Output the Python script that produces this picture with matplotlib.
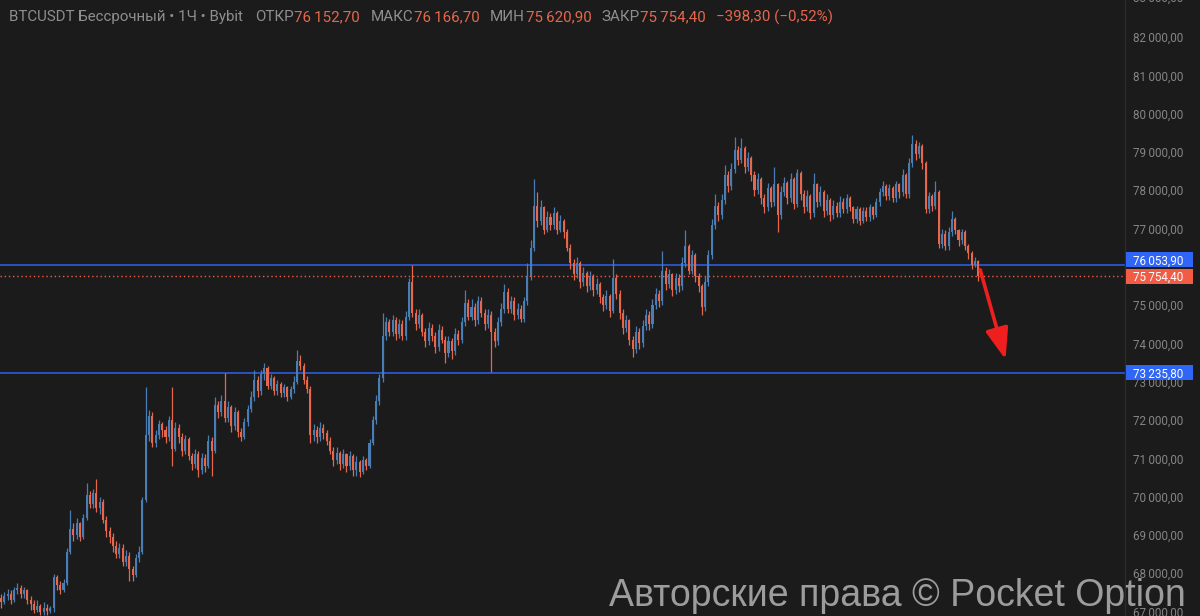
import numpy as np
import matplotlib
matplotlib.use("Agg")
import matplotlib.pyplot as plt
from matplotlib.patches import Rectangle
from matplotlib.ticker import FuncFormatter, MultipleLocator

# ─────────────────────────────────────────────
# Data (BTCUSDT 1H, prices in thousands USDT)
# ─────────────────────────────────────────────
first_open = 67.35

closes = [
    67.25, 67.40, 67.45, 67.30, 67.55, 67.62, 67.45, 67.55, 67.30, 67.20,
    67.05, 67.15, 66.98, 67.10, 67.02, 67.08, 67.90, 67.70, 67.55, 67.75,
    68.55, 69.15, 69.00, 69.30, 68.95, 69.45, 70.05, 69.80, 70.10, 69.70,
    69.85, 69.40, 69.10, 68.95, 68.70, 68.50, 68.65, 68.30, 68.45, 68.10,
    67.95, 68.40, 68.55, 69.90, 71.60, 72.10, 71.40, 71.60, 71.90, 71.75,
    71.55, 72.00, 71.25, 71.80, 71.55, 71.20, 71.50, 71.05, 70.85, 71.10,
    70.70, 71.00, 70.80, 71.45, 71.20, 72.40, 72.20, 72.50, 72.05, 72.35,
    71.85, 72.20, 71.70, 71.55, 71.95, 72.30, 72.60, 73.05, 72.75, 73.20,
    73.35, 72.90, 73.10, 72.75, 72.95, 72.70, 72.85, 72.60, 72.80, 73.00,
    73.55, 73.40, 73.05, 72.80, 71.60, 71.75, 71.55, 71.80, 71.65, 71.45,
    71.20, 70.95, 71.15, 70.85, 71.10, 70.80, 71.05, 70.70, 70.90, 70.65,
    70.95, 70.80, 71.40, 72.00, 72.50, 73.10, 74.20, 74.55, 74.30, 74.60,
    74.25, 74.50, 74.20, 74.70, 75.60, 74.80, 74.50, 74.75, 74.30, 74.05,
    74.40, 74.20, 73.90, 74.35, 74.10, 73.75, 74.05, 73.80, 74.25, 74.10,
    74.55, 75.05, 74.70, 74.95, 74.60, 75.10, 74.80, 74.50, 74.75, 74.30,
    74.05, 74.55, 74.90, 75.35, 74.90, 75.10, 74.75, 74.90, 74.65, 75.10,
    75.75, 76.50, 77.60, 77.20, 77.55, 76.95, 77.30, 77.10, 77.40, 76.95,
    77.20, 76.90, 76.50, 76.10, 75.80, 76.10, 75.60, 75.85, 75.50, 75.75,
    75.40, 75.55, 75.20, 75.00, 75.25, 74.85, 75.70, 75.30, 74.80, 74.40,
    74.60, 74.10, 73.85, 74.30, 74.00, 74.45, 74.75, 74.50, 75.00, 75.30,
    75.10, 75.90, 75.55, 75.80, 75.40, 75.70, 75.50, 76.10, 76.55, 75.90,
    76.30, 75.75, 75.50, 74.95, 75.60, 76.30, 77.10, 77.60, 77.35, 77.75,
    78.40, 78.10, 78.55, 79.05, 78.80, 79.10, 78.60, 78.85, 78.40, 78.00,
    78.30, 77.80, 77.55, 78.05, 77.70, 78.15, 77.35, 77.95, 78.20, 77.80,
    78.30, 77.65, 78.45, 77.90, 77.55, 77.85, 77.40, 78.15, 77.70, 77.95,
    77.45, 77.75, 77.35, 77.60, 77.40, 77.70, 77.50, 77.80, 77.55, 77.25,
    77.50, 77.20, 77.45, 77.30, 77.55, 77.35, 77.70, 77.95, 78.10, 77.85,
    78.05, 77.80, 78.15, 77.95, 78.40, 77.90, 78.70, 79.20, 78.95, 79.15,
    78.70, 77.50, 77.85, 77.60, 77.95, 76.60, 76.85, 76.55, 76.90, 77.25,
    76.95, 76.70, 76.90, 76.55, 76.35, 76.05, 76.1527, 75.7544,
]

highs = [
    67.45, 67.50, 67.60, 67.55, 67.65, 67.75, 67.70, 67.65, 67.60, 67.40,
    67.30, 67.30, 67.20, 67.25, 67.20, 67.15, 67.98, 67.95, 67.80, 67.85,
    68.65, 69.65, 69.30, 69.45, 69.35, 69.55, 70.35, 70.15, 70.20, 70.45,
    70.00, 69.95, 69.50, 69.20, 69.05, 68.85, 68.80, 68.75, 68.60, 68.55,
    68.20, 68.50, 68.70, 70.00, 72.85, 72.25, 72.20, 71.75, 72.00, 71.95,
    71.85, 72.10, 72.85, 71.95, 71.90, 71.65, 71.60, 71.55, 71.15, 71.25,
    71.20, 71.15, 71.10, 71.60, 71.55, 72.60, 72.50, 72.65, 73.23, 72.50,
    72.40, 72.35, 72.25, 71.80, 72.05, 72.40, 72.75, 73.30, 73.15, 73.30,
    73.50, 73.40, 73.20, 73.15, 73.05, 73.00, 72.95, 72.90, 72.90, 73.15,
    73.83, 73.70, 73.50, 73.15, 72.90, 71.90, 71.85, 71.95, 71.90, 71.75,
    71.55, 71.30, 71.30, 71.20, 71.25, 71.15, 71.20, 71.10, 71.05, 70.95,
    71.05, 71.00, 71.50, 72.10, 72.65, 73.20, 74.80, 74.70, 74.65, 74.75,
    74.70, 74.65, 74.60, 74.85, 75.70, 76.05, 74.90, 74.90, 74.80, 74.40,
    74.55, 74.50, 74.30, 74.50, 74.45, 74.20, 74.20, 74.15, 74.40, 74.35,
    74.70, 75.40, 75.15, 75.15, 75.05, 75.25, 75.20, 74.90, 74.90, 74.85,
    74.40, 74.70, 75.05, 75.55, 75.45, 75.25, 75.20, 75.05, 75.00, 75.20,
    76.10, 76.70, 78.30, 77.95, 77.75, 77.60, 77.45, 77.40, 77.55, 77.45,
    77.35, 77.25, 77.00, 76.60, 76.20, 76.25, 76.15, 76.00, 75.90, 75.90,
    75.80, 75.70, 75.60, 75.30, 75.40, 75.30, 76.20, 75.80, 75.40, 74.90,
    74.75, 74.65, 74.20, 74.45, 74.40, 74.60, 74.90, 74.85, 75.15, 75.45,
    75.40, 76.40, 76.00, 75.95, 75.85, 75.85, 75.80, 76.25, 76.95, 76.60,
    76.45, 76.35, 75.85, 75.55, 75.75, 76.45, 77.25, 77.90, 77.70, 77.90,
    78.65, 78.50, 78.70, 79.40, 79.15, 79.35, 79.15, 79.00, 78.90, 78.50,
    78.45, 78.35, 77.90, 78.20, 78.10, 78.60, 78.20, 78.10, 78.35, 78.25,
    78.45, 78.35, 78.55, 78.50, 78.00, 78.00, 77.90, 78.45, 78.20, 78.10,
    78.00, 77.90, 77.80, 77.75, 77.70, 77.85, 77.80, 77.90, 77.85, 77.60,
    77.60, 77.55, 77.55, 77.55, 77.65, 77.60, 77.80, 78.05, 78.25, 78.15,
    78.15, 78.10, 78.25, 78.20, 78.55, 78.45, 78.85, 79.45, 79.30, 79.25,
    79.20, 78.75, 77.95, 77.90, 78.25, 78.00, 77.00, 76.95, 77.05, 77.45,
    77.30, 77.00, 77.00, 76.95, 76.60, 76.40, 76.25, 76.1667,
]

lows = [
    67.10, 67.20, 67.30, 67.20, 67.25, 67.45, 67.35, 67.35, 67.20, 67.05,
    66.95, 66.98, 66.90, 66.92, 66.92, 66.95, 67.00, 67.55, 67.45, 67.50,
    67.70, 68.50, 68.85, 68.90, 68.85, 68.90, 69.40, 69.70, 69.70, 69.60,
    69.55, 69.30, 68.95, 68.80, 68.55, 68.40, 68.40, 68.20, 68.20, 67.80,
    67.80, 67.90, 68.30, 68.50, 69.85, 71.45, 71.30, 71.30, 71.50, 71.55,
    71.40, 71.45, 70.80, 71.20, 71.40, 71.05, 71.10, 70.95, 70.70, 70.75,
    70.50, 70.60, 70.65, 70.75, 70.55, 71.15, 72.05, 72.10, 71.95, 71.95,
    71.70, 71.75, 71.55, 71.45, 71.50, 71.85, 72.20, 72.50, 72.60, 72.65,
    73.05, 72.80, 72.80, 72.65, 72.65, 72.60, 72.60, 72.50, 72.55, 72.70,
    72.95, 73.30, 72.95, 72.70, 71.40, 71.45, 71.40, 71.45, 71.50, 71.35,
    71.10, 70.80, 70.85, 70.70, 70.75, 70.65, 70.70, 70.55, 70.55, 70.50,
    70.60, 70.70, 70.75, 71.35, 71.90, 72.40, 73.00, 74.10, 74.20, 74.20,
    74.10, 74.15, 74.10, 74.10, 74.60, 74.70, 74.35, 74.40, 74.20, 73.90,
    73.95, 74.05, 73.75, 73.80, 74.00, 73.50, 73.65, 73.60, 73.70, 73.95,
    74.00, 74.45, 74.60, 74.60, 74.45, 74.50, 74.70, 74.35, 74.40, 73.25,
    73.90, 73.95, 74.45, 74.80, 74.80, 74.80, 74.60, 74.65, 74.55, 74.55,
    75.00, 75.65, 76.40, 77.05, 77.10, 76.85, 76.90, 76.95, 77.00, 76.85,
    76.90, 76.75, 76.40, 75.95, 75.65, 75.70, 75.45, 75.50, 75.35, 75.40,
    75.25, 75.30, 75.05, 74.85, 74.90, 74.70, 74.80, 75.15, 74.65, 74.25,
    74.30, 73.95, 73.65, 73.75, 73.85, 73.90, 74.35, 74.35, 74.40, 74.90,
    74.95, 75.00, 75.40, 75.45, 75.25, 75.30, 75.35, 75.40, 76.00, 75.80,
    75.80, 75.60, 75.35, 74.75, 74.85, 75.50, 76.20, 77.00, 77.20, 77.25,
    77.65, 77.95, 78.00, 78.45, 78.65, 78.70, 78.45, 78.50, 78.25, 77.85,
    77.90, 77.65, 77.40, 77.45, 77.55, 77.60, 76.90, 77.25, 77.85, 77.65,
    77.70, 77.50, 77.55, 77.75, 77.40, 77.45, 77.25, 77.30, 77.55, 77.60,
    77.30, 77.35, 77.20, 77.25, 77.30, 77.30, 77.40, 77.40, 77.45, 77.15,
    77.15, 77.10, 77.15, 77.20, 77.20, 77.25, 77.30, 77.60, 77.85, 77.75,
    77.75, 77.70, 77.70, 77.80, 77.85, 77.80, 77.80, 78.60, 78.80, 78.85,
    78.55, 77.40, 77.40, 77.45, 77.50, 76.50, 76.50, 76.45, 76.45, 76.80,
    76.85, 76.55, 76.60, 76.45, 76.20, 75.95, 76.00, 75.6209,
]

# key levels drawn on the chart
levels = [76.0539, 73.2358]

# scale labels hidden behind the price tags
hidden_ticks = [76000]

# hand-drawn arrow: (candle index, price) -> (candle index, price)
arrow_from = (297.6, 75.92)
arrow_to = (305.3, 73.58)

copyright_text = "Авторские права © Pocket Option"

# ─────────────────────────────────────────────
# Style
# ─────────────────────────────────────────────
BG = "#1b1b1b"
UP = "#4a7db3"
DOWN = "#e6674c"
GRAY = "#8e8e8e"
AXIS_TXT = "#858585"
LEVEL_BLUE = "#2c62f0"
TAG_BLUE = "#2f66f5"
LAST_RED = "#f25c45"

plt.rcParams["font.family"] = ["Roboto", "DejaVu Sans"]

W, H = 1200, 616
AX_RIGHT = 1125
fig = plt.figure(figsize=(W / 100, H / 100), dpi=100, facecolor=BG)
ax = fig.add_axes([0, 0, AX_RIGHT / W, 1])
ax.set_facecolor(BG)

c = np.array(closes) * 1000
o = np.concatenate([[first_open], closes[:-1]]) * 1000
hi = np.array(highs) * 1000
lo = np.array(lows) * 1000
x = np.arange(len(c))
cols = np.where(c >= o, UP, DOWN)

# ── Candles ───────────────────────────────────────────────────
ax.vlines(x, lo, hi, colors=cols, lw=0.9, zorder=3)
body_lo = np.minimum(o, c)
body_h = np.maximum(np.abs(c - o), 25)
ax.bar(x, body_h, bottom=body_lo, width=0.62, color=cols, lw=0, zorder=3)

# ── Levels ────────────────────────────────────────────────────
for lv in levels:
    ax.axhline(lv * 1000, color=LEVEL_BLUE, lw=1.1, zorder=2)
ax.axhline(c[-1], color=LAST_RED, lw=1.0, ls=(0, (1, 2)), zorder=2)

# ── Arrow ─────────────────────────────────────────────────────
ax.annotate("", xy=(arrow_to[0], arrow_to[1] * 1000),
            xytext=(arrow_from[0], arrow_from[1] * 1000),
            arrowprops=dict(arrowstyle="-|>,head_length=1.9,head_width=0.7",
                            color="#f01f1f", lw=2.6, shrinkA=0, shrinkB=0),
            zorder=5)

# ── Axes ──────────────────────────────────────────────────────
ax.set_xlim(-0.3, 341.6)
ax.set_ylim(66883, 82966)
ax.xaxis.set_visible(False)
ax.yaxis.tick_right()
ax.yaxis.set_major_locator(MultipleLocator(1000))


def fmt_price(v, pos=None):
    return f"{v:,.2f}".replace(",", "\u2009").replace(".", ",")


def fmt_tick(v, pos=None):
    if round(v) in hidden_ticks:
        return ""
    return fmt_price(v)


ax.yaxis.set_major_formatter(FuncFormatter(fmt_tick))
ax.tick_params(axis="y", length=0, pad=5.8, labelsize=8.4, labelcolor=AXIS_TXT)
for side in ["top", "bottom", "left"]:
    ax.spines[side].set_visible(False)
ax.spines["right"].set_color("#2c2c2c")
ax.spines["right"].set_linewidth(1)

# 83 000 sits just above the top edge and shows cut in half
top_tick = 83000
ty = ax.transData.transform((0, top_tick))[1]
fig.text((AX_RIGHT + 8) / W, ty / H, fmt_price(top_tick), color=AXIS_TXT,
         fontsize=8.4, ha="left", va="center")

# ── Price tags on the scale ───────────────────────────────────
tags = [(levels[0] * 1000, TAG_BLUE, 5), (c[-1], LAST_RED, 0),
        (levels[1] * 1000, TAG_BLUE, 0)]
for val, colr, dy in tags:
    yc = ax.transData.transform((0, val))[1] + dy
    fig.patches.append(Rectangle((AX_RIGHT + 1, yc - 7.5), 67, 15,
                                 transform=None, fc=colr, ec="none",
                                 zorder=6))
    fig.text((AX_RIGHT + 8) / W, yc / H, fmt_price(val), color="white",
             fontsize=8.4, ha="left", va="center_baseline", zorder=7)

# ── Header line ───────────────────────────────────────────────
fig.canvas.draw()
rend = fig.canvas.get_renderer()
chg = c[-1] - o[-1]
pct = chg / o[-1] * 100
parts = [
    ("BTCUSDT Бессрочный • 1Ч • Bybit", GRAY, 12),
    ("ОТКР", GRAY, 1), (fmt_price(o[-1]), DOWN, 10),
    ("МАКС", GRAY, 1), (fmt_price(hi[-1]), DOWN, 10),
    ("МИН", GRAY, 1), (fmt_price(lo[-1]), DOWN, 10),
    ("ЗАКР", GRAY, 1), (fmt_price(c[-1]), DOWN, 10),
    (f"\u2212{fmt_price(abs(chg))} (\u2212{abs(pct):.2f}%)".replace(".", ","), DOWN, 0),
]
xp = 9
for s, colr, gap in parts:
    t = fig.text(xp / W, 1 - 17 / H, s, color=colr, fontsize=10.9,
                 ha="left", va="center")
    xp += t.get_window_extent(rend).width + gap

# ── Watermark ─────────────────────────────────────────────────
fig.text(1186 / W, 10 / H, copyright_text, ha="right", va="baseline",
         fontsize=27, color="#a8a8a8", alpha=0.92,
         family=["Liberation Sans", "DejaVu Sans"])

fig.savefig("out.png", dpi=100, facecolor=BG)
